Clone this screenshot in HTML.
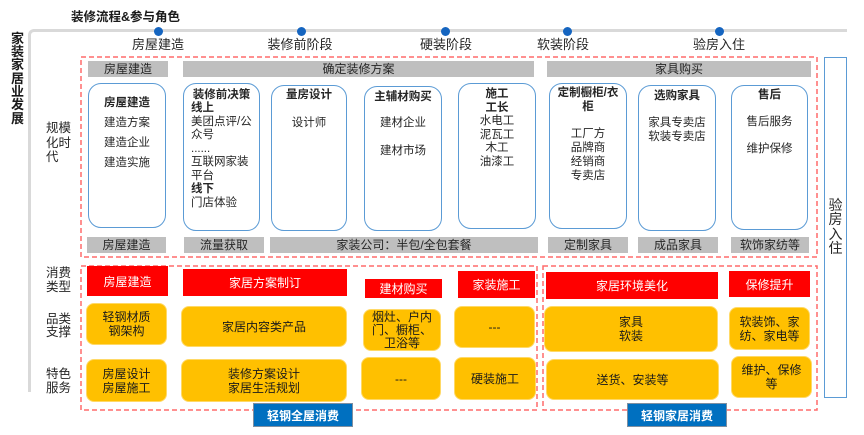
<!DOCTYPE html>
<html><head><meta charset="utf-8">
<style>
*{margin:0;padding:0;box-sizing:border-box}
body{width:864px;height:435px;background:#fff;position:relative;overflow:hidden;font-family:"Liberation Sans","Noto Sans CJK SC",sans-serif;color:#262626}
.a{position:absolute}
.t{position:absolute;text-align:center;white-space:nowrap;font-size:11.5px;line-height:14px;height:14px}
.b{font-weight:bold}
.gb{position:absolute;background:#BFBFBF;font-size:12px;text-align:center;color:#262626}
.rb{position:absolute;border:1.5px solid #5B9BD5;border-radius:13px;background:#fff}
.red{position:absolute;background:#FF0000;color:#fff;font-size:12px;display:flex;align-items:center;justify-content:center}
.yel{position:absolute;background:#FFC000;border:1px solid #FFD966;border-radius:8px;color:#1a1a1a;font-size:12px;line-height:14px;display:flex;align-items:center;justify-content:center;text-align:center}
.lab{position:absolute;font-size:12.5px;line-height:14px;left:46px;color:#262626}
.badge{position:absolute;background:#0070C0;border:1px solid #7F8FA0;color:#fff;font-size:12px;font-weight:bold;display:flex;align-items:center;justify-content:center}
.dot{position:absolute;width:9px;height:9px;border-radius:50%;background:#1565C0}
.stage{position:absolute;font-size:13px;line-height:16px;top:37px;text-align:center;width:80px}
.l{text-align:left}
</style></head><body>

<!-- frame lines -->
<div class="a" style="left:28px;top:29px;width:819px;height:363px;border-top:3px solid #D9D9D9;border-left:3px solid #D9D9D9;border-top-left-radius:6px"></div>

<div class="a b" style="left:71px;top:9px;font-size:12.5px;line-height:16px;color:#1a1a1a">装修流程&amp;参与角色</div>

<div class="a b" style="left:10px;top:31.6px;width:15px;font-size:13px;line-height:13.33px;text-align:center;color:#1a1a1a">家<br>装<br>家<br>居<br>业<br>发<br>展</div>

<!-- dots -->
<div class="dot" style="left:153.5px;top:26.5px"></div>
<div class="dot" style="left:296.5px;top:26.5px"></div>
<div class="dot" style="left:440.5px;top:26.5px"></div>
<div class="dot" style="left:562.5px;top:26.5px"></div>
<div class="dot" style="left:714.5px;top:26.5px"></div>

<div class="stage" style="left:118px">房屋建造</div>
<div class="stage" style="left:260px">装修前阶段</div>
<div class="stage" style="left:406px">硬装阶段</div>
<div class="stage" style="left:523px">软装阶段</div>
<div class="stage" style="left:679px">验房入住</div>

<!-- dashed boxes -->
<svg class="a" style="left:0;top:0" width="864" height="435">
<rect x="81" y="57" width="736" height="200" fill="none" stroke="#FF6B6B" stroke-width="1.5" stroke-dasharray="5 3"/>
<rect x="81" y="266" width="456" height="144" fill="none" stroke="#FF6B6B" stroke-width="1.5" stroke-dasharray="5 3"/>
<rect x="543" y="266" width="274" height="144" fill="none" stroke="#FF6B6B" stroke-width="1.5" stroke-dasharray="5 3"/>
</svg>

<!-- right box -->
<div class="a" style="left:824px;top:57px;width:23px;height:341px;border:1.5px solid #5B9BD5;background:#fff"></div>
<div class="a" style="left:824px;top:197.5px;width:23px;font-size:14px;line-height:14.5px;text-align:center">验<br>房<br>入<br>住</div>

<!-- left labels -->
<div class="lab" style="top:121px;line-height:14.5px">规模<br>化时<br>代</div>
<div class="lab" style="top:266px">消费<br>类型</div>
<div class="lab" style="top:313px;line-height:13px">品类<br>支撑</div>
<div class="lab" style="top:367px">特色<br>服务</div>

<!-- gray headers -->
<div class="gb" style="left:88px;top:61px;width:80px;height:16px;line-height:16px">房屋建造</div>
<div class="gb" style="left:183px;top:61px;width:351px;height:16px;line-height:16px">确定装修方案</div>
<div class="gb" style="left:547px;top:61px;width:264px;height:16px;line-height:16px">家具购买</div>

<!-- rounded boxes -->
<div class="rb" style="left:88px;top:83px;width:78px;height:145px"></div>
<div class="rb" style="left:183px;top:83px;width:77px;height:148px"></div>
<div class="rb" style="left:271px;top:85px;width:76px;height:146px"></div>
<div class="rb" style="left:364px;top:86px;width:78px;height:145px"></div>
<div class="rb" style="left:458px;top:83px;width:78px;height:146px"></div>
<div class="rb" style="left:549px;top:83px;width:78px;height:146px"></div>
<div class="rb" style="left:638px;top:85px;width:78px;height:146px"></div>
<div class="rb" style="left:731px;top:85px;width:77px;height:145px"></div>

<!-- box1 -->
<div class="t b" style="left:88px;width:78px;top:96px">房屋建造</div>
<div class="t" style="left:88px;width:78px;top:116px">建造方案</div>
<div class="t" style="left:88px;width:78px;top:136px">建造企业</div>
<div class="t" style="left:88px;width:78px;top:156px">建造实施</div>
<!-- box2 -->
<div class="t b" style="left:183px;width:77px;top:88px">装修前决策</div>
<div class="t b l" style="left:191px;top:101px">线上</div>
<div class="t l" style="left:191px;top:114.5px">美团点评/公</div>
<div class="t l" style="left:191px;top:128px">众号</div>
<div class="t l" style="left:191px;top:141.5px">......</div>
<div class="t l" style="left:191px;top:155px">互联网家装</div>
<div class="t l" style="left:191px;top:168.5px">平台</div>
<div class="t b l" style="left:191px;top:182px">线下</div>
<div class="t l" style="left:191px;top:195.5px">门店体验</div>
<!-- box3 -->
<div class="t b" style="left:271px;width:76px;top:88px">量房设计</div>
<div class="t" style="left:271px;width:76px;top:116px">设计师</div>
<!-- box4 -->
<div class="t b" style="left:364px;width:78px;top:90px">主辅材购买</div>
<div class="t" style="left:364px;width:78px;top:116px">建材企业</div>
<div class="t" style="left:364px;width:78px;top:144px">建材市场</div>
<!-- box5 -->
<div class="t b" style="left:458px;width:78px;top:87px">施工</div>
<div class="t b" style="left:458px;width:78px;top:100.5px">工长</div>
<div class="t" style="left:458px;width:78px;top:114px">水电工</div>
<div class="t" style="left:458px;width:78px;top:127.5px">泥瓦工</div>
<div class="t" style="left:458px;width:78px;top:141px">木工</div>
<div class="t" style="left:458px;width:78px;top:154.5px">油漆工</div>
<!-- box6 -->
<div class="t b" style="left:549px;width:78px;top:86px">定制橱柜/衣</div>
<div class="t b" style="left:549px;width:78px;top:100px">柜</div>
<div class="t" style="left:549px;width:78px;top:127px">工厂方</div>
<div class="t" style="left:549px;width:78px;top:141px">品牌商</div>
<div class="t" style="left:549px;width:78px;top:155px">经销商</div>
<div class="t" style="left:549px;width:78px;top:169px">专卖店</div>
<!-- box7 -->
<div class="t b" style="left:638px;width:78px;top:89px">选购家具</div>
<div class="t" style="left:638px;width:78px;top:116px">家具专卖店</div>
<div class="t" style="left:638px;width:78px;top:130px">软装专卖店</div>
<!-- box8 -->
<div class="t b" style="left:731px;width:77px;top:88px">售后</div>
<div class="t" style="left:731px;width:77px;top:115px">售后服务</div>
<div class="t" style="left:731px;width:77px;top:142px">维护保修</div>

<!-- bottom gray labels -->
<div class="gb" style="left:87px;top:237px;width:79px;height:16px;line-height:16px">房屋建造</div>
<div class="gb" style="left:184px;top:237px;width:80px;height:16px;line-height:16px">流量获取</div>
<div class="gb" style="left:270px;top:237px;width:268px;height:16px;line-height:16px">家装公司：半包/全包套餐</div>
<div class="gb" style="left:548px;top:237px;width:80px;height:16px;line-height:16px">定制家具</div>
<div class="gb" style="left:638px;top:237px;width:80px;height:16px;line-height:16px">成品家具</div>
<div class="gb" style="left:731px;top:237px;width:78px;height:16px;line-height:16px">软饰家纺等</div>

<!-- red headers -->
<div class="red" style="left:87px;top:266px;width:81px;height:30px">房屋建造</div>
<div class="red" style="left:183px;top:269px;width:164px;height:27px">家居方案制订</div>
<div class="red" style="left:365px;top:279px;width:77px;height:19px">建材购买</div>
<div class="red" style="left:458px;top:271px;width:77px;height:27px">家装施工</div>
<div class="red" style="left:546px;top:272px;width:172px;height:27px">家居环境美化</div>
<div class="red" style="left:729px;top:271px;width:81px;height:26px">保修提升</div>

<!-- yellow row1 -->
<div class="yel" style="left:86px;top:303px;width:81px;height:42px">轻钢材质<br>钢架构</div>
<div class="yel" style="left:181px;top:306px;width:166px;height:41px">家居内容类产品</div>
<div class="yel" style="left:363px;top:309px;width:78px;height:42px;line-height:13px">烟灶、户内<br>门、橱柜、<br>卫浴等</div>
<div class="yel" style="left:454px;top:306px;width:81px;height:42px">---</div>
<div class="yel" style="left:544px;top:306px;width:174px;height:46px">家具<br>软装</div>
<div class="yel" style="left:729px;top:307px;width:81px;height:43px">软装饰、家<br>纺、家电等</div>

<!-- yellow row2 -->
<div class="yel" style="left:86px;top:359px;width:81px;height:43px">房屋设计<br>房屋施工</div>
<div class="yel" style="left:181px;top:359px;width:166px;height:43px">装修方案设计<br>家居生活规划</div>
<div class="yel" style="left:361px;top:357px;width:80px;height:43px">---</div>
<div class="yel" style="left:454px;top:357px;width:82px;height:43px">硬装施工</div>
<div class="yel" style="left:546px;top:359px;width:173px;height:41px">送货、安装等</div>
<div class="yel" style="left:731px;top:356px;width:81px;height:42px">维护、保修<br>等</div>

<!-- badges -->
<div class="badge" style="left:253px;top:403px;width:100px;height:24px">轻钢全屋消费</div>
<div class="badge" style="left:627px;top:403px;width:100px;height:24px">轻钢家居消费</div>

</body></html>
